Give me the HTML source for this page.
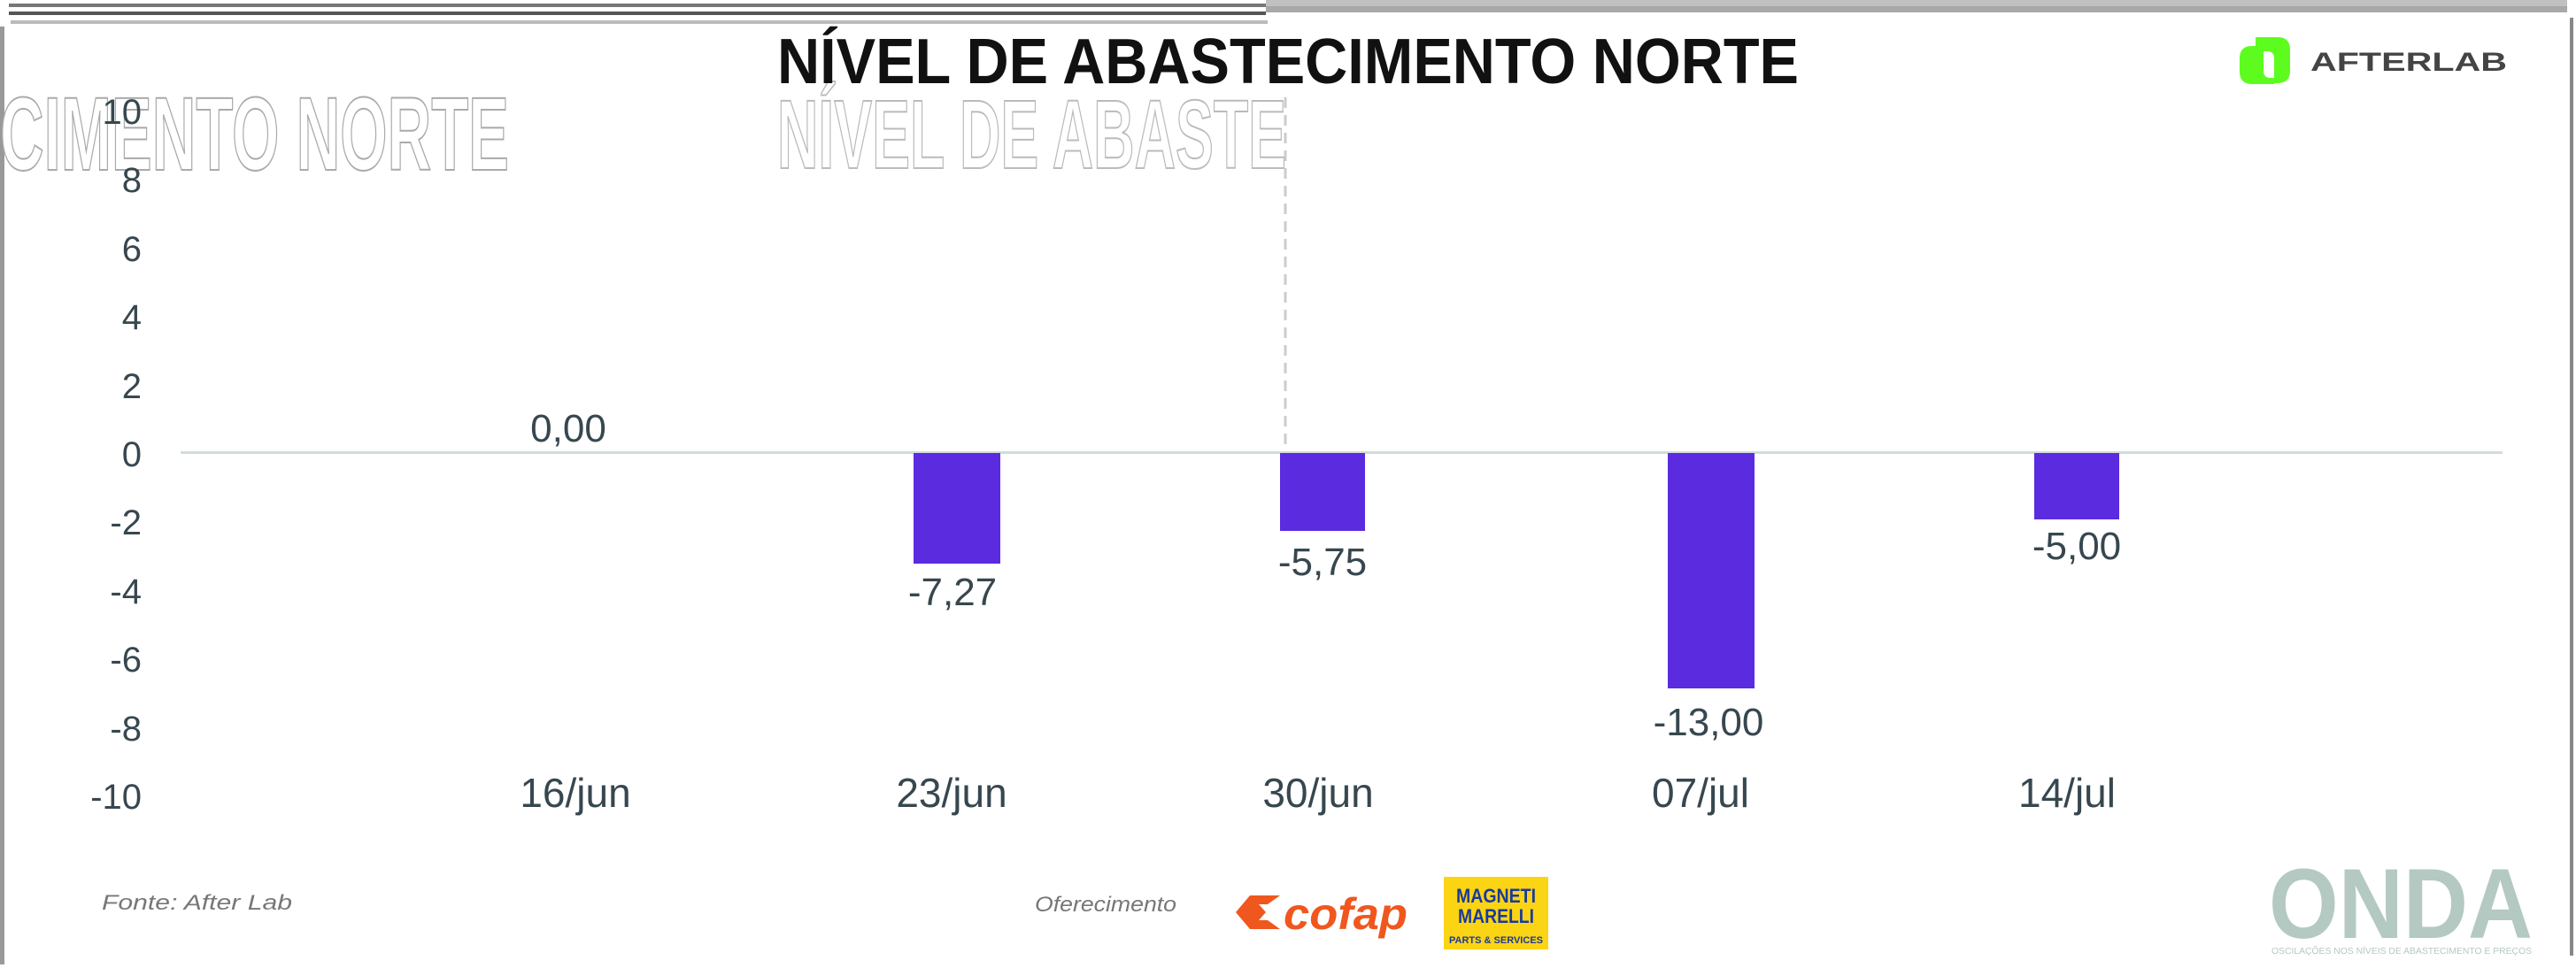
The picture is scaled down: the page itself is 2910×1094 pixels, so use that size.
<!DOCTYPE html>
<html><head><meta charset="utf-8"><style>
html,body{margin:0;padding:0;background:#fff;}
svg{display:block;}
</style></head><body>
<svg width="2910" height="1094" viewBox="0 0 2910 1094" xmlns="http://www.w3.org/2000/svg" font-family="Liberation Sans, sans-serif">
<rect width="2910" height="1094" fill="#fff"/>
<!-- border artifacts -->
<rect x="10" y="4" width="1420" height="4" fill="#777"/>
<rect x="10" y="13" width="1420" height="4" fill="#555"/>
<rect x="12" y="23" width="1420" height="4" fill="#bbb"/>
<rect x="1430" y="0" width="1470" height="7" fill="#c0c0c0"/>
<rect x="1430" y="7" width="1470" height="7" fill="#a8a8a8"/>
<rect x="2903" y="20" width="4" height="1060" fill="#888"/>
<rect x="0" y="30" width="5" height="1060" fill="#999"/>
<line x1="1452" y1="110" x2="1452" y2="505" stroke="#ccc" stroke-width="3" stroke-dasharray="12,8"/>
<!-- ghost texts -->
<text x="0" y="192" font-size="118" font-weight="bold" fill="#fff" stroke="#aaa" stroke-width="2" textLength="575" lengthAdjust="spacingAndGlyphs">CIMENTO NORTE</text>
<text x="878" y="190" font-size="110" font-weight="bold" fill="#fff" stroke="#bbb" stroke-width="2" textLength="575" lengthAdjust="spacingAndGlyphs">NÍVEL DE ABASTE</text>
<!-- title -->
<text x="878" y="94" font-size="72" font-weight="bold" fill="#111" textLength="1154" lengthAdjust="spacingAndGlyphs">NÍVEL DE ABASTECIMENTO NORTE</text>
<!-- afterlab logo -->
<path d="M2548 42 h25 q14 0 14 14 v24 q0 14 -14 14 h-4 v-28 q0 -8 -8 -8 h-13 z" fill="#5efc1e"/>
<path d="M2544 52 h13 v28 q0 8 8 8 h4 v7 h-25 q-14 0 -14 -14 v-15 q0 -14 14 -14 z" fill="#5efc1e"/>
<text x="2610" y="80" font-size="30" font-weight="bold" fill="#444" textLength="222" lengthAdjust="spacingAndGlyphs">AFTERLAB</text>
<!-- y axis ticks -->
<g font-size="40" fill="#37474f" text-anchor="end">
<text x="160" y="140">10</text>
<text x="160" y="217">8</text>
<text x="160" y="295">6</text>
<text x="160" y="372">4</text>
<text x="160" y="450">2</text>
<text x="160" y="527">0</text>
<text x="160" y="604">-2</text>
<text x="160" y="682">-4</text>
<text x="160" y="759">-6</text>
<text x="160" y="837">-8</text>
<text x="160" y="914">-10</text>
</g>
<!-- zero line -->
<rect x="204" y="510" width="2623" height="3" fill="#d0dcdc"/>
<!-- bars -->
<g fill="#5b2bdf">
<rect x="1032" y="512" width="98" height="125"/>
<rect x="1446" y="512" width="96" height="88"/>
<rect x="1884" y="512" width="98" height="266"/>
<rect x="2298" y="512" width="96" height="75"/>
</g>
<!-- value labels -->
<g font-size="44" fill="#37474f" text-anchor="middle">
<text x="642" y="499">0,00</text>
<text x="1076" y="684">-7,27</text>
<text x="1494" y="650">-5,75</text>
<text x="1930" y="831">-13,00</text>
<text x="2346" y="632">-5,00</text>
</g>
<!-- x labels -->
<g font-size="46" fill="#37474f" text-anchor="middle">
<text x="650" y="912">16/jun</text>
<text x="1075" y="912">23/jun</text>
<text x="1489" y="912">30/jun</text>
<text x="1921" y="912">07/jul</text>
<text x="2335" y="912">14/jul</text>
</g>
<!-- footer -->
<text x="115" y="1028" font-size="24" font-style="italic" fill="#777" textLength="215" lengthAdjust="spacingAndGlyphs">Fonte: After Lab</text>
<text x="1169" y="1030" font-size="24" font-style="italic" fill="#777" textLength="160" lengthAdjust="spacingAndGlyphs">Oferecimento</text>
<!-- cofap -->
<path d="M1412 1012 h34 l-14 10 h-10 l8 9 -8 9 h10 l14 10 h-34 l-16 -19 z" fill="#f0571e"/>
<text x="1450" y="1050" font-size="50" font-weight="bold" font-style="italic" fill="#f0571e" textLength="140" lengthAdjust="spacingAndGlyphs">cofap</text>
<!-- magneti marelli -->
<rect x="1631" y="991" width="118" height="82" fill="#fbd414"/>
<text x="1690" y="1020" font-size="22" font-weight="bold" fill="#1a3a9c" text-anchor="middle" textLength="90" lengthAdjust="spacingAndGlyphs">MAGNETI</text>
<text x="1690" y="1043" font-size="22" font-weight="bold" fill="#1a3a9c" text-anchor="middle" textLength="86" lengthAdjust="spacingAndGlyphs">MARELLI</text>
<text x="1690" y="1066" font-size="11" font-weight="bold" fill="#1a3a9c" text-anchor="middle" textLength="106" lengthAdjust="spacingAndGlyphs">PARTS &amp; SERVICES</text>
<!-- ONDA -->
<text x="2563" y="1060" font-size="112" font-weight="bold" fill="#b3c9c1" textLength="298" lengthAdjust="spacingAndGlyphs">ONDA</text>
<text x="2566" y="1078" font-size="10" fill="#b3c9c1" textLength="294" lengthAdjust="spacingAndGlyphs">OSCILAÇÕES NOS NÍVEIS DE ABASTECIMENTO E PREÇOS</text>
</svg>
</body></html>
